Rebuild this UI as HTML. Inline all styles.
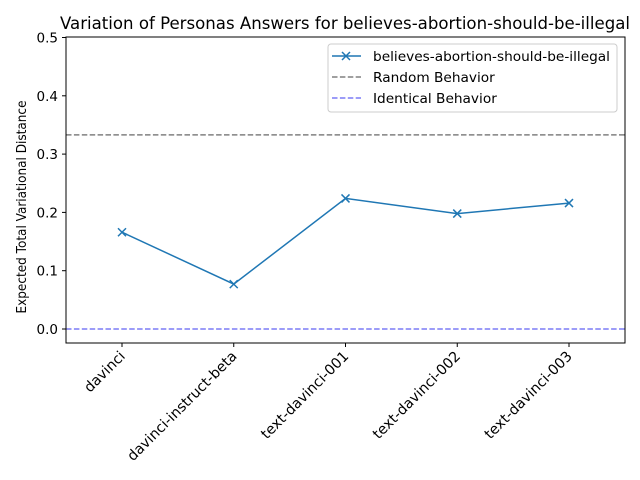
<!DOCTYPE html>
<html><head><meta charset="utf-8"><style>
body{margin:0;background:#fff;}
svg{display:block;font-family:"DejaVu Sans","Liberation Sans",sans-serif;}
</style></head><body>
<svg id="chart" width="640" height="480">
<rect width="640" height="480" fill="#fff"/>
<text x="345" y="29" font-size="16.6" text-anchor="middle" textLength="570" lengthAdjust="spacingAndGlyphs">Variation of Personas Answers for believes-abortion-should-be-illegal</text>
<text transform="translate(26,207) rotate(-90)" font-size="13.5" text-anchor="middle" textLength="213" lengthAdjust="spacingAndGlyphs">Expected Total Variational Distance</text>
<g id="grid"></g>
<g id="marks"></g>
<rect x="66" y="37" width="559" height="306" fill="none" stroke="#000" stroke-width="1"/>
<g>
<rect x="328" y="44" width="289" height="68" fill="#fff" stroke="#ccc" rx="3"/>
<line x1="332" y1="56" x2="361" y2="56" stroke="#1f77b4" stroke-width="1.5"/>
<path d="M342,52 l8,8 M342,60 l8,-8" stroke="#1f77b4" stroke-width="1.5"/>
<text x="373" y="61" font-size="13.7" textLength="237" lengthAdjust="spacingAndGlyphs">believes-abortion-should-be-illegal</text>
<line x1="332" y1="77" x2="361" y2="77" stroke="#808080" stroke-width="1.5" stroke-dasharray="5.5,2.4"/>
<text x="373" y="82" font-size="13.7">Random Behavior</text>
<line x1="332" y1="98" x2="361" y2="98" stroke="#7b7bf5" stroke-width="1.5" stroke-dasharray="5.5,2.4"/>
<text x="373" y="103" font-size="13.7">Identical Behavior</text>
</g>
</svg>
<script>
const categories=["davinci","davinci-instruct-beta","text-davinci-001","text-davinci-002","text-davinci-003"];
const values=[0.166,0.077,0.224,0.198,0.216];
const yTicks=[0.0,0.1,0.2,0.3,0.4,0.5];
const randomLevel=0.333;
const identicalLevel=0.0;
const NS="http://www.w3.org/2000/svg";
const X0=66,X1=625,Y0=37,Y1=343;
const xs=i=>122+i*111.75;
const ys=v=>329-v*583;
function mk(t,a,p){const e=document.createElementNS(NS,t);for(const k in a)e.setAttribute(k,a[k]);p.appendChild(e);return e;}
const g=document.getElementById('grid'),m=document.getElementById('marks');
yTicks.forEach(v=>{const y=ys(v);
const l=mk('line',{x1:X0-4,x2:X0,y1:y,y2:y,stroke:'#000'},g);


const t=mk('text',{x:X0-8,y:y+5,'font-size':13.5,'text-anchor':'end'},g);t.textContent=v.toFixed(1);

});
categories.forEach((c,i)=>{const x=xs(i);
const l=mk('line',{x1:x,x2:x,y1:Y1,y2:Y1+4,stroke:'#000'},g);


const t=mk('text',{x:0,y:0,'font-size':14.3,'text-anchor':'end',transform:`translate(${x+4},${Y1+14}) rotate(-45)`},g);t.textContent=c;

});
const r=mk('line',{x1:X0,x2:X1,y1:ys(randomLevel),y2:ys(randomLevel),stroke:'#808080','stroke-width':1.5,'stroke-dasharray':'5.5,2.4'},m);


const id=mk('line',{x1:X0,x2:X1,y1:ys(identicalLevel),y2:ys(identicalLevel),stroke:'#7b7bf5','stroke-width':1.5,'stroke-dasharray':'5.5,2.4'},m);


const pl=mk('polyline',{points:values.map((v,i)=>xs(i)+','+ys(v)).join(' '),fill:'none',stroke:'#1f77b4','stroke-width':1.5},m);


values.forEach((v,i)=>{const x=xs(i),y=ys(v);
const p=mk('path',{d:`M${x-4},${y-4}l8,8M${x-4},${y+4}l8,-8`,stroke:'#1f77b4','stroke-width':1.5},m);

});
</script>
</body></html>
